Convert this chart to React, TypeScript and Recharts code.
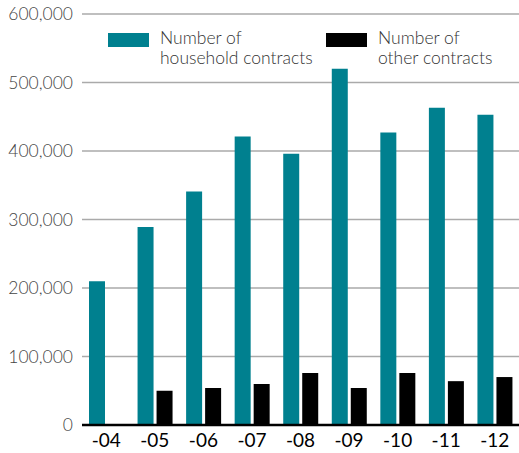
import { Bar, BarChart, CartesianGrid, Legend, XAxis, YAxis } from "recharts";

const YEARS = ["-04", "-05", "-06", "-07", "-08", "-09", "-10", "-11", "-12"];
const HOUSEHOLD = [210000, 289000, 341000, 421000, 396000, 520000, 427000, 463000, 453000];
const OTHER = [0, 50000, 54000, 60000, 76000, 54000, 76000, 64000, 70000];
const Y_TICKS = [0, 100000, 200000, 300000, 400000, 500000, 600000];

const TEAL = "#00808f";
const FONT = "Lato, 'DejaVu Sans', sans-serif";

const data = YEARS.map((year, i) => ({
  year,
  household: HOUSEHOLD[i],
  other: OTHER[i],
}));

const LEGEND_ITEMS = [
  { color: TEAL, lines: ["Number of", "household contracts"], x: 108 },
  { color: "#000000", lines: ["Number of", "other contracts"], x: 326 },
];

function ChartLegend() {
  return (
    <div style={{ position: "relative", width: 519, height: 60, fontFamily: FONT }}>
      {LEGEND_ITEMS.map((item) => (
        <div key={item.x} style={{ position: "absolute", left: item.x, top: 0 }}>
          <div
            style={{
              position: "absolute",
              left: 0,
              top: 33,
              width: 41,
              height: 14,
              background: item.color,
            }}
          />
          <div
            style={{
              position: "absolute",
              left: 52,
              top: 28,
              fontSize: 17.5,
              fontWeight: 300,
              lineHeight: "20px",
              color: "#333",
              whiteSpace: "nowrap",
            }}
          >
            {item.lines[0]}
            <br />
            {item.lines[1]}
          </div>
        </div>
      ))}
    </div>
  );
}

export default function App() {
  return (
    <div style={{ position: "absolute", left: 0, top: 0, background: "#fff" }}>
      <BarChart
        width={519}
        height={453}
        data={data}
        margin={{ top: 14, right: 0, bottom: 0, left: 0 }}
        barGap={3}
        barSize={16}
      >
        <CartesianGrid vertical={false} stroke="#aaaaaa" strokeWidth={1.5} />
        <XAxis
          dataKey="year"
          height={28}
          axisLine={{ stroke: "#000", strokeWidth: 2.5 }}
          tickLine={false}
          tickSize={0}
          tickMargin={9}
          tick={{ fill: "#000", fontSize: 19, fontFamily: FONT }}
        />
        <YAxis
          width={82}
          domain={[0, 600000]}
          ticks={Y_TICKS}
          interval={0}
          axisLine={false}
          tickLine={false}
          tickSize={0}
          tickMargin={9}
          tick={{ fill: "#444", fontSize: 17.5, fontWeight: 300, fontFamily: FONT }}
          tickFormatter={(v: number) => v.toLocaleString("en-US")}
        />
        <Legend
          verticalAlign="top"
          align="left"
          wrapperStyle={{ top: 0, left: 0, width: 519, height: 0 }}
          content={() => <ChartLegend />}
        />
        <Bar dataKey="household" fill={TEAL} isAnimationActive={false} />
        <Bar dataKey="other" fill="#000000" isAnimationActive={false} />
      </BarChart>
    </div>
  );
}
